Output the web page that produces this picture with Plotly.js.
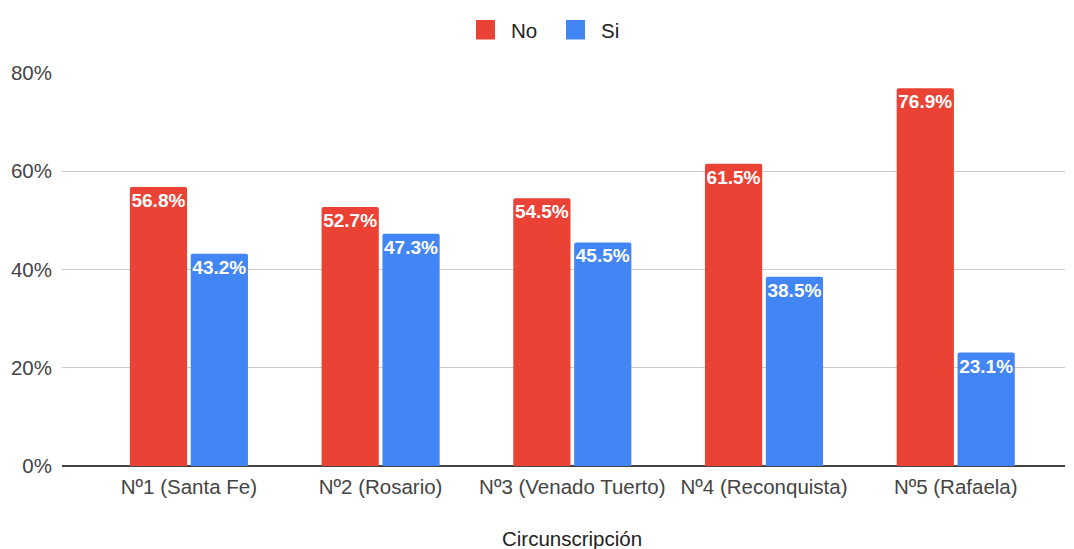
<!DOCTYPE html>
<html>
<head>
<meta charset="utf-8">
<script src="https://cdn.plot.ly/plotly-3.0.1.min.js"></script>
<style>html,body{margin:0;padding:0;background:#fff}#chart{width:1074px;height:549px}</style>
</head>
<body>
<div id="chart"></div>
<script>
const categories = ["Nº1 (Santa Fe)", "Nº2 (Rosario)", "Nº3 (Venado Tuerto)", "Nº4 (Reconquista)", "Nº5 (Rafaela)"];
const seriesNames = ["No", "Si"];
const seriesColors = ["#EA4335", "#4285F4"];
const noValues = [56.8, 52.7, 54.5, 61.5, 76.9];
const siValues = [43.2, 47.3, 45.5, 38.5, 23.1];
const yTickVals = [0, 20, 40, 60, 80];
const xTitle = "Circunscripción";

const FONT = "Arial, 'Liberation Sans', sans-serif";
const idx = categories.map((c, i) => i);
const W = 1074, H = 549;

function barTrace(name, vals, color) {
  return {
    type: "bar",
    name: name,
    x: idx,
    y: vals,
    marker: {color: color, line: {width: 0}},
    text: vals.map(v => v.toFixed(1) + "%"),
    textposition: "inside",
    insidetextanchor: "end",
    constraintext: "none",
    textangle: 0,
    textfont: {family: FONT, size: 19, color: "#ffffff", weight: "bold"},
    showlegend: false,
    hoverinfo: "skip"
  };
}

const data = [
  barTrace(seriesNames[0], noValues, seriesColors[0]),
  barTrace(seriesNames[1], siValues, seriesColors[1])
];

// manual legend (squares + labels) at top center
const legendItems = [
  {sq: [476, 495], tx: 509},
  {sq: [566, 585], tx: 599}
];
const legendShapes = legendItems.map((it, i) => ({
  type: "rect", xref: "paper", yref: "paper",
  x0: (it.sq[0] - 62) / (W - 62 - 9), x1: (it.sq[1] - 62) / (W - 62 - 9),
  y0: 1 + (72 - 39.5) / 394, y1: 1 + (72 - 20) / 394,
  fillcolor: seriesColors[i], line: {width: 0}
}));
const legendAnn = legendItems.map((it, i) => ({
  text: seriesNames[i], xref: "paper", yref: "paper",
  x: (it.tx - 62) / (W - 62 - 9), y: 1 + (72 - 30) / 394,
  xanchor: "left", yanchor: "middle", showarrow: false,
  font: {family: FONT, size: 20.5, color: "#222222"}
}));

const layout = {
  width: W,
  height: H,
  margin: {l: 62, r: 9, t: 72, b: 83, pad: 0},
  paper_bgcolor: "#ffffff",
  plot_bgcolor: "#ffffff",
  font: {family: FONT, size: 20.5, color: "#444444"},
  barmode: "group",
  bargap: 0.365,
  bargroupgap: 0.06,
  barcornerradius: 2,
  showlegend: false,
  xaxis: {
    type: "linear",
    range: [-0.662, 4.57],
    tickmode: "array",
    tickvals: idx,
    ticktext: categories,
    showgrid: false,
    zeroline: false,
    showline: false,
    ticks: "",
    ticklabelstandoff: 6,
    tickfont: {family: FONT, size: 20.5, color: "#444444"},
    fixedrange: true
  },
  yaxis: {
    range: [0, 80.2],
    tickmode: "array",
    tickvals: yTickVals,
    ticktext: yTickVals.map(v => v + "%"),
    showgrid: true,
    gridcolor: "#cccccc",
    gridwidth: 1,
    zeroline: true,
    zerolinecolor: "#444444",
    zerolinewidth: 1.5,
    ticks: "",
    ticklabelstandoff: 9,
    tickfont: {family: FONT, size: 20.5, color: "#444444"},
    fixedrange: true
  },
  shapes: legendShapes,
  annotations: [{
    text: xTitle,
    xref: "x", x: 2,
    yref: "paper", y: -(538 - 466) / 394,
    xanchor: "center", yanchor: "middle",
    showarrow: false,
    font: {family: FONT, size: 20.5, color: "#222222"}
  }].concat(legendAnn)
};

Plotly.newPlot("chart", data, layout, {displayModeBar: false, staticPlot: true});
</script>
</body>
</html>
